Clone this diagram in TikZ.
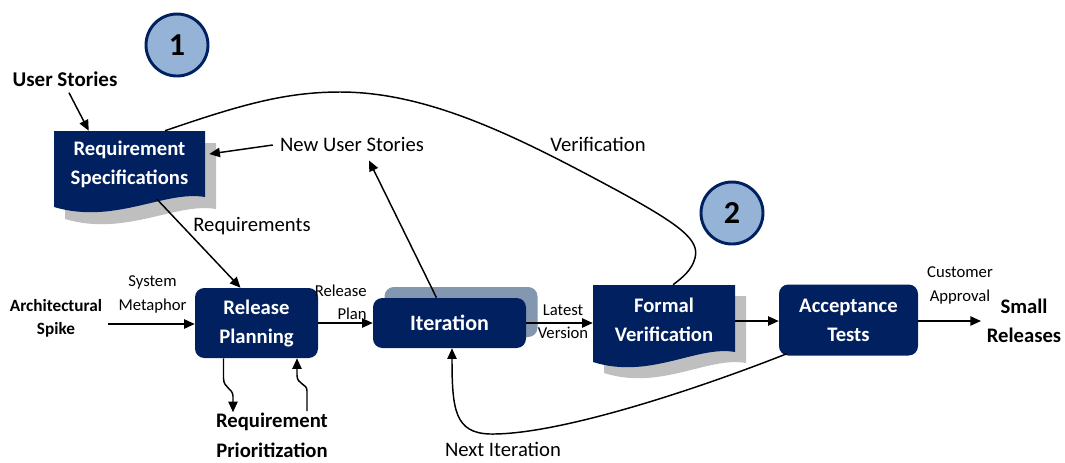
\documentclass[tikz,border=0pt]{standalone}
\usepackage{fontspec}
\setmainfont{Carlito}
\usetikzlibrary{arrows.meta,calc}
\definecolor{navy}{HTML}{002060}
\definecolor{circfill}{HTML}{95B3D7}
\definecolor{docshadow}{HTML}{BFBFBF}
\definecolor{itshadow}{HTML}{8497B0}
\newcommand{\docshape}[5]{%
  \path[#1] (#2,#3) -- (#4,#3) -- (#4,#5)
    .. controls ({#4-0.265*(#4-#2)},{#5-7}) and ({#2+0.4*(#4-#2)},{#5+28}) .. (#2,{#5+10}) -- cycle;}
\begin{document}
\begin{tikzpicture}[x=0.75pt,y=-0.75pt,
  conn/.style={line width=1.1pt,-{Triangle[length=8pt,width=7pt]}},
  plainline/.style={line width=1.1pt},
  procbox/.style={rectangle,rounded corners=7pt,fill=navy,text=white,
    font=\fontsize{15.5}{21.75}\selectfont\bfseries,align=center,inner sep=0pt},
  docbox/.style={rectangle,text=white,
    font=\fontsize{15.5}{21.75}\selectfont\bfseries,align=center,inner sep=0pt},
  lbl/.style={font=\fontsize{15.5}{21}\selectfont,inner sep=0pt},
  smalllbl/.style={font=\fontsize{12.5}{17.5}\selectfont,align=center,inner sep=0pt},
  boldlbl/.style={font=\fontsize{15.5}{22.5}\selectfont\bfseries,align=center,inner sep=0pt},
  smallbold/.style={font=\fontsize{12.9}{17.5}\selectfont\bfseries,align=center,inner sep=0pt},
  numcirc/.style={circle,draw=navy,line width=2.2pt,fill=circfill,minimum size=46.5pt,
    inner sep=0pt,font=\fontsize{24}{24}\selectfont\bfseries}
]
\useasboundingbox (0,0) rectangle (1065,462);

% circles
\node[numcirc] (c1) at (177,45) {1};
\node[numcirc] (c2) at (732,213) {2};

% Requirement Specifications document
\docshape{fill=docshadow}{65}{143}{216}{209}
\docshape{fill=navy}{54}{131}{205}{197}
\node[docbox,minimum width=113.25pt,minimum height=49.5pt] (rs) at (129.5,164) {Requirement\\Specifications};

% Formal Verification document
\docshape{fill=docshadow}{604}{296}{746}{363}
\docshape{fill=navy}{593}{285}{735}{352}
\node[docbox,minimum width=106.5pt,minimum height=52.5pt] (fv) at (664,320) {Formal\\Verification};

% process boxes
\node[procbox,minimum width=92.25pt,minimum height=52.5pt] (rp) at (256.5,323) {Release\\Planning};
\node[rectangle,rounded corners=7pt,fill=itshadow,minimum width=114.75pt,minimum height=37.5pt] (itsh) at (461,312) {};
\node[procbox,minimum width=114.75pt,minimum height=37.5pt,font=\fontsize{16.5}{21}\selectfont\bfseries] (it) at (449.5,323) {Iteration};
\node[procbox,minimum width=104.25pt,minimum height=53.25pt] (at) at (848.5,320) {Acceptance\\Tests};

% labels
\node[font=\fontsize{15.75}{20}\selectfont\bfseries,inner sep=0pt] (us) at (65,79) {User Stories};
\node[lbl] (nus) at (352,144) {New User Stories};
\node[lbl] (req) at (252,226) {Requirements};
\node[lbl] (ver) at (598,144) {Verification};
\node[smalllbl] (sm) at (152.5,294.5) {System\\Metaphor};
\node[smallbold] (as) at (56,318.5) {Architectural\\Spike};
\node[smalllbl,align=right,anchor=east] (rplan) at (367,302) {Release\\Plan};
\node[smalllbl] (lv) at (563,322) {Latest\\Version};
\node[smalllbl] (ca) at (960,285.5) {Customer\\Approval};
\node[boldlbl,font=\fontsize{15.5}{21.75}\selectfont\bfseries] (sr) at (1024,320.5) {Small\\Releases};
\node[boldlbl] (rpz) at (272,435) {Requirement\\Prioritization};
\node[lbl] (ni) at (503,449) {Next Iteration};

\coordinate (srtip) at (981,320);
\coordinate (rpup) at (307,411);

% connectors
\draw[conn] ($(us.south)+(4,6)$) -- ($(rs.north west)+(35,0)$);
\draw[conn] ($(nus.west)+(-7,1)$) -- ($(rs.east)+(4,-10)$);
\draw[conn] ($(rs.south)+(27.5,2)$) -- ($(rp.north)+(-16,0)$);
\draw[conn] ($(as.east |- rp.west)+(6,1)$) -- ($(rp.west)+(0,1)$);
\draw[conn] (rp.east) -- (it.west);
\draw[conn] ($(it.north)+(-13,0)$) -- ($(nus.south)+(17,9)$);
\draw[conn] (it.east) -- (it.east -| fv.west);
\draw[conn] ($(fv.east)+(0,1)$) -- ($(at.west)+(0,1)$);
\draw[conn] ($(at.east)+(0,1)$) -- ($(srtip)+(0,1)$);
\draw[conn] ($(rp.south)+(-33,0)$) -- ++(0,20) .. controls +(0,10) and +(0,-8) .. ++(9.5,18) -- ++(0,16);
\draw[conn] (rpup) -- ++(0,-20) .. controls +(0,-8) and +(0,10) .. ++(-10,-16) -- ($(rp.south)+(40.5,0)$);

% Verification curve
\draw[plainline] ($(rs.north)+(35.5,0)$) .. controls (240,105) and (285,92) .. (340,92)
  .. controls (430,92) and (520,138) .. (620,192)
  .. controls (680,225) and (700,240) .. (695,258)
  .. controls (692,270) and (682,278) .. ($(fv.north)+(9,0)$);

% Next Iteration curve
\draw[conn] ($(at.south west)+(8,-2)$) .. controls (700,388) and (560,435) .. (490,434)
  .. controls (455,433) and (452,410) .. ($(it.south)+(2.5,0)$);
\end{tikzpicture}
\end{document}
